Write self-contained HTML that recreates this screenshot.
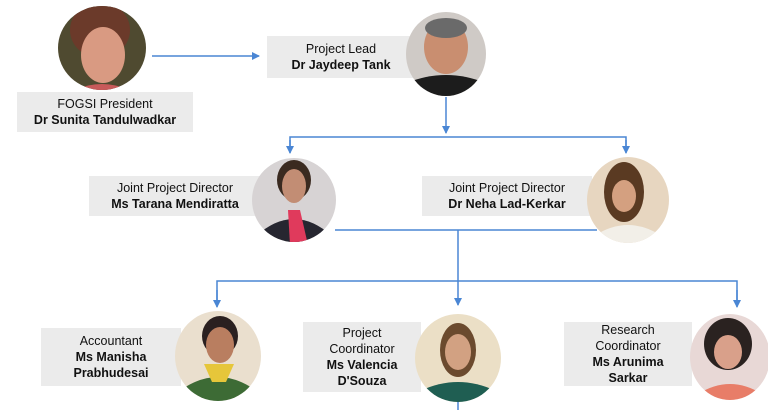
<!DOCTYPE html>
<html><head><meta charset="utf-8"><style>
body{margin:0;width:768px;height:410px;background:#fff;overflow:hidden;position:relative;font-family:"Liberation Sans",Arial,sans-serif;}
.lb{position:absolute;background:#ebebeb;color:#111;font-size:12.5px;line-height:16px;text-align:center;display:flex;flex-direction:column;justify-content:center;}
.lb b{font-weight:bold;}
svg{position:absolute;left:0;top:0;}
</style></head><body>
<div class="lb" style="left:17px;top:92px;width:176px;height:40px">FOGSI President<b>Dr Sunita Tandulwadkar</b></div>
<div class="lb" style="left:267px;top:36px;width:148px;height:42px">Project Lead<b>Dr Jaydeep Tank</b></div>
<div class="lb" style="left:89px;top:176px;width:172px;height:40px">Joint Project Director<b>Ms Tarana Mendiratta</b></div>
<div class="lb" style="left:422px;top:176px;width:170px;height:40px">Joint Project Director<b>Dr Neha Lad-Kerkar</b></div>
<div class="lb" style="left:41px;top:328px;width:140px;height:58px">Accountant<b>Ms Manisha<br>Prabhudesai</b></div>
<div class="lb" style="left:303px;top:322px;width:118px;height:70px">Project<br>Coordinator<b>Ms Valencia<br>D'Souza</b></div>
<div class="lb" style="left:564px;top:322px;width:128px;height:64px">Research<br>Coordinator<b>Ms Arunima<br>Sarkar</b></div>
<svg width="768" height="410" viewBox="0 0 768 410">
<defs><marker id="a" markerWidth="8" markerHeight="8" refX="7" refY="4" orient="auto" markerUnits="userSpaceOnUse"><path d="M0,0L8,4L0,8z" fill="#4a86d4"/></marker>
<clipPath id="c1"><ellipse cx="102" cy="48" rx="44" ry="42"/></clipPath>
<clipPath id="c2"><ellipse cx="446" cy="54" rx="40" ry="42"/></clipPath>
<clipPath id="c3"><ellipse cx="294" cy="200" rx="42" ry="42"/></clipPath>
<clipPath id="c4"><ellipse cx="628" cy="200" rx="41" ry="43"/></clipPath>
<clipPath id="c5"><ellipse cx="218" cy="356" rx="43" ry="45"/></clipPath>
<clipPath id="c6"><ellipse cx="458" cy="358" rx="43" ry="44"/></clipPath>
<clipPath id="c7"><ellipse cx="730" cy="357" rx="40" ry="43"/></clipPath>
</defs>
<g stroke="#4a86d4" stroke-width="1.5" fill="none">
<line x1="152" y1="56" x2="259" y2="56" marker-end="url(#a)"/>
<line x1="446" y1="97" x2="446" y2="133" marker-end="url(#a)"/>
<polyline points="290,152 290,137 626,137 626,152"/>
<line x1="290" y1="140" x2="290" y2="153" marker-end="url(#a)"/>
<line x1="626" y1="140" x2="626" y2="153" marker-end="url(#a)"/>
<line x1="335" y1="230" x2="597" y2="230"/>
<line x1="458" y1="230" x2="458" y2="305" marker-end="url(#a)"/>
<polyline points="217,306 217,281 737,281 737,306"/>
<line x1="217" y1="290" x2="217" y2="307" marker-end="url(#a)"/>
<line x1="737" y1="290" x2="737" y2="307" marker-end="url(#a)"/>
<line x1="458" y1="400" x2="458" y2="410"/>
</g>
<g clip-path="url(#c1)">
<rect x="50" y="0" width="110" height="100" fill="#4f4a30"/>
<ellipse cx="100" cy="30" rx="30" ry="28" fill="#6b3a2a"/>
<ellipse cx="103" cy="55" rx="22" ry="28" fill="#d99a82"/>
<path d="M70,92 Q102,76 134,92z" fill="#c85a5a"/>
</g>
<g clip-path="url(#c2)">
<rect x="400" y="10" width="90" height="90" fill="#cfcac6"/>
<ellipse cx="446" cy="47" rx="22" ry="27" fill="#c98e70"/>
<ellipse cx="446" cy="28" rx="21" ry="10" fill="#6a6a6a"/>
<path d="M404,84 Q446,66 488,84 L488,100 L404,100z" fill="#1c1c1c"/>
</g>
<g clip-path="url(#c3)">
<rect x="250" y="155" width="90" height="90" fill="#d7d3d4"/>
<ellipse cx="294" cy="180" rx="17" ry="20" fill="#3a2a20"/>
<ellipse cx="294" cy="186" rx="12" ry="17" fill="#c28d74"/>
<path d="M256,236 Q294,202 332,236 L332,245 L256,245z" fill="#262630"/>
<path d="M288,210 L300,210 L308,245 L290,245z" fill="#e03a5c"/>
</g>
<g clip-path="url(#c4)">
<rect x="585" y="155" width="90" height="90" fill="#e7d6c0"/>
<ellipse cx="624" cy="192" rx="20" ry="30" fill="#5a3a22"/>
<ellipse cx="624" cy="196" rx="12" ry="16" fill="#d4a080"/>
<path d="M594,236 Q628,214 662,236 L662,245 L594,245z" fill="#f2efe8"/>
</g>
<g clip-path="url(#c5)">
<rect x="172" y="308" width="92" height="96" fill="#eadfce"/>
<ellipse cx="220" cy="336" rx="18" ry="20" fill="#2a2020"/>
<ellipse cx="220" cy="345" rx="14" ry="18" fill="#b97e60"/>
<path d="M178,392 Q218,362 258,392 L258,404 L178,404z" fill="#3d6b35"/>
<path d="M204,364 L234,364 L226,382 L212,382z" fill="#e6c63a"/>
</g>
<g clip-path="url(#c6)">
<rect x="412" y="312" width="92" height="92" fill="#ebdfc6"/>
<ellipse cx="458" cy="350" rx="18" ry="27" fill="#6b4a2e"/>
<ellipse cx="458" cy="352" rx="13" ry="18" fill="#d2a182"/>
<path d="M418,392 Q458,372 498,392 L498,404 L418,404z" fill="#1f5e52"/>
</g>
<g clip-path="url(#c7)">
<rect x="688" y="312" width="84" height="92" fill="#e8d8d6"/>
<ellipse cx="728" cy="344" rx="24" ry="26" fill="#2a2220"/>
<ellipse cx="728" cy="352" rx="14" ry="17" fill="#d9a08a"/>
<path d="M698,394 Q730,374 762,394 L762,404 L698,404z" fill="#e87d68"/>
</g>
</svg>
</body></html>
